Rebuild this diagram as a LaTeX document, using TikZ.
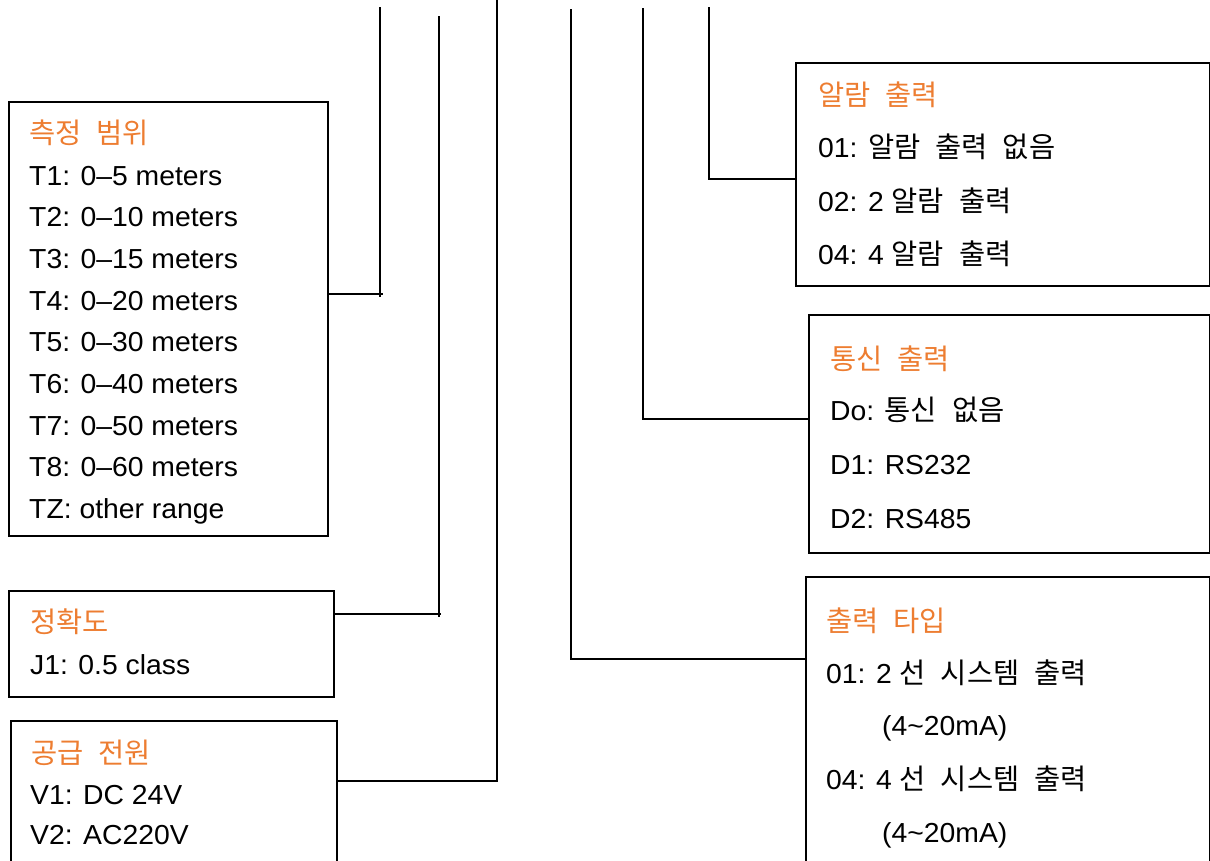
\documentclass[tikz,border=0pt]{standalone}
\usepackage{fontspec}
\setmainfont[FakeStretch=1.03]{Liberation Sans}
\newfontfamily\krfont[Scale=1.035]{Noto Sans CJK KR}
\newcommand\kr[1]{{\krfont\spaceskip=15pt\relax #1}}
\definecolor{titleorange}{HTML}{ED7D31}
\begin{document}
\begin{tikzpicture}[x=1pt,y=-1pt,
  box/.style={draw, line width=1.7pt, anchor=north west, inner sep=0pt},
  ln/.style={line width=1.7pt},
  ttl/.style={anchor=base west, inner sep=0pt, text=titleorange, font=\fontsize{27.5}{33}\selectfont},
  itm/.style={anchor=base west, inner sep=0pt, font=\fontsize{27.5}{33}\selectfont}]
\useasboundingbox (0,0) rectangle (1210,860);
\clip (0,0) rectangle (1210,860);

% boxes
\node[box, minimum width=319pt, minimum height=434pt] (A) at (8,101) {};
\node[box, minimum width=325pt, minimum height=106pt] (B) at (8,590) {};
\node[box, minimum width=326pt, minimum height=170pt] (C) at (10,720) {};
\node[box, minimum width=414pt, minimum height=223pt] (D) at (795,62) {};
\node[box, minimum width=401pt, minimum height=238pt] (E) at (808,314) {};
\node[box, minimum width=404pt, minimum height=300pt] (F) at (805,576) {};

% box A text
\node[ttl] (Atitle) at (29,143) {\kr{측정 범위}};
\foreach \t [count=\i from 0] in {T1: 0–5 meters, T2: 0–10 meters, T3: 0–15 meters, T4: 0–20 meters, T5: 0–30 meters, T6: 0–40 meters, T7: 0–50 meters, T8: 0–60 meters, TZ: other range}
  \node[itm] (A\i) at (29,185+41.7*\i) {\t};

% box B text
\node[ttl] (Btitle) at (30,632) {\kr{정확도}};
\node[itm] (B1) at (30,674) {J1: 0.5 class};

% box C text
\node[ttl] (Ctitle) at (31,763) {\kr{공급 전원}};
\node[itm] (C1) at (30,804) {V1: DC 24V};
\node[itm] (C2) at (30,844) {V2: AC220V};

% box D text
\node[ttl] (Dtitle) at (818,105) {\kr{알람 출력}};
\node[itm] (D1) at (818,157) {01: \kr{알람 출력 없음}};
\node[itm] (D2) at (818,211) {02: 2 \kr{알람 출력}};
\node[itm] (D3) at (818,264) {04: 4 \kr{알람 출력}};

% box E text
\node[ttl] (Etitle) at (830,369) {\kr{통신 출력}};
\node[itm] (E1) at (830,420) {Do: \kr{통신 없음}};
\node[itm] (E2) at (830,474) {D1: RS232};
\node[itm] (E3) at (830,528) {D2: RS485};

% box F text
\node[ttl] (Ftitle) at (826,631) {\kr{출력 타입}};
\node[itm] (F1) at (826,683) {01: 2 \kr{선 시스템 출력}};
\node[itm] (F2) at (882,735) {(4\textasciitilde20mA)};
\node[itm] (F3) at (826,789) {04: 4 \kr{선 시스템 출력}};
\node[itm] (F4) at (882,842) {(4\textasciitilde20mA)};

% connectors
\coordinate (t1) at (380,7);   \coordinate (j1) at (380,294);
\coordinate (t2) at (439,16);  \coordinate (j2) at (439,614);
\coordinate (t3) at (497,0);   \coordinate (j3) at (497,781);
\coordinate (t4) at (571,9);   \coordinate (j4) at (571,659);
\coordinate (t5) at (643,8);   \coordinate (j5) at (643,419);
\coordinate (t6) at (709,7);   \coordinate (j6) at (709,179);

\draw[ln] (t1) -- ([yshift=-3pt]j1);
\draw[ln] (A.east |- j1) -- ([xshift=3pt]j1);
\draw[ln] (t2) -- ([yshift=-3pt]j2);
\draw[ln] (B.east |- j2) -- ([xshift=2pt]j2);
\draw[ln] (t3) -- (j3) -- (C.east |- j3);
\draw[ln] (t4) -- (j4) -- (F.west |- j4);
\draw[ln] (t5) -- (j5) -- (E.west |- j5);
\draw[ln] (t6) -- (j6) -- (D.west |- j6);
\end{tikzpicture}
\end{document}
